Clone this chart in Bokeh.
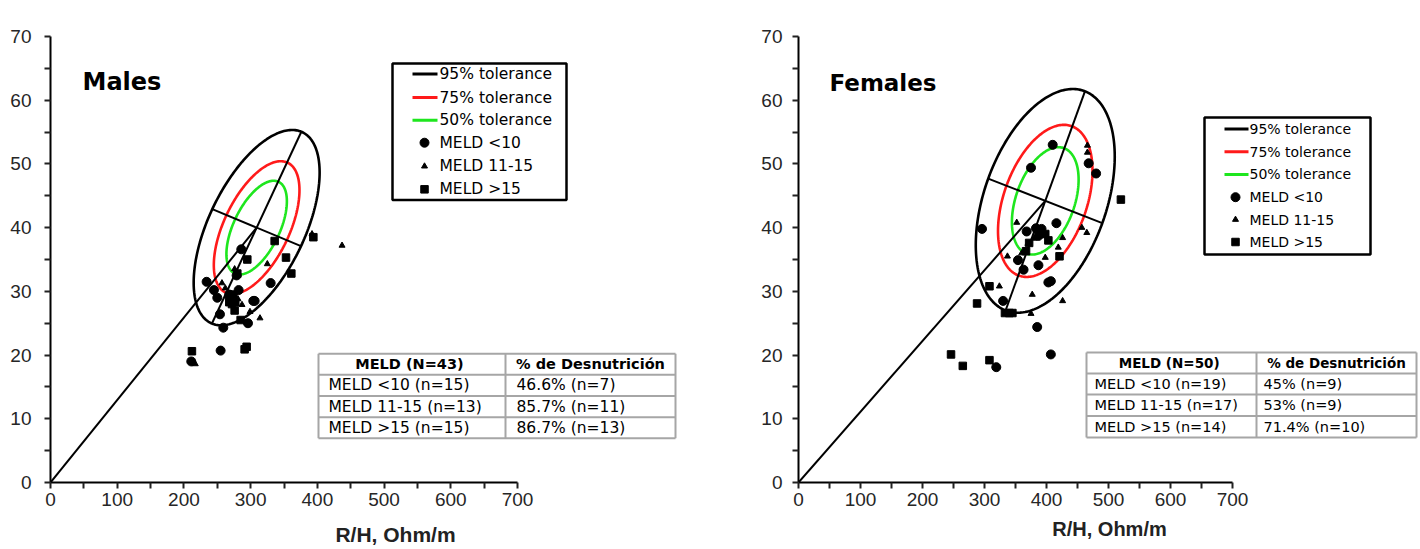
import numpy as np
from bokeh.plotting import figure
from bokeh.layouts import row
from bokeh.models import FixedTicker, Label, Range1d
from bokeh.core.properties import value
from bokeh.embed import file_html
from bokeh.resources import INLINE

# ---------------- data ----------------
x_ticks = [0, 100, 200, 300, 400, 500, 600, 700]
x_minor = [50, 150, 250, 350, 450, 550, 650]
y_ticks = [0, 10, 20, 30, 40, 50, 60, 70]
y_minor = [5, 15, 25, 35, 45, 55, 65]

tol_labels = ["95% tolerance", "75% tolerance", "50% tolerance"]
tol_scale = [1.0, 0.68, 0.48]
tol_colors = ["#000000", "#ff1a1a", "#1ee61e"]
meld_labels = ["MELD <10", "MELD 11-15", "MELD >15"]
meld_markers = ["circle", "triangle", "square"]
meld_sizes = [9, 6, 7.5]

# Males
m_lt10_x = [234, 245, 250, 254, 259, 296, 304, 282, 286, 255, 211, 330, 279, 268, 306]
m_lt10_y = [31.5, 30.2, 29.0, 26.4, 24.3, 25.0, 28.5, 30.2, 36.6, 20.7, 19.0, 31.3, 32.5, 29.5, 28.5]
m_11_15_x = [437, 325, 257, 314, 287, 299, 217, 276, 266, 305, 281, 392, 262]
m_11_15_y = [37.2, 34.3, 31.3, 25.8, 27.9, 26.8, 18.6, 33.5, 29.2, 28.7, 28.8, 39.0, 30.5]
m_gt15_x = [212, 294, 291, 336, 353, 361, 394, 295, 280, 268, 277, 276, 285, 274, 272]
m_gt15_y = [20.6, 21.3, 20.9, 37.9, 35.3, 32.8, 38.5, 35.0, 32.8, 28.3, 28.3, 27.0, 25.5, 29.5, 28.0]
m_center = [309, 40.0]
m_major = [67, 15.05]
m_minor = [66.5, -2.9]
m_header = ["MELD  (N=43)", "% de Desnutrición"]
m_col1 = ["MELD <10 (n=15)", "MELD 11-15 (n=13)", "MELD >15 (n=15)"]
m_col2 = ["46.6% (n=7)", "85.7% (n=11)", "86.7% (n=13)"]

# Females
f_lt10_x = [410, 375, 468, 480, 296, 416, 368, 383, 387, 354, 363, 387, 403, 407, 330, 385, 407, 319, 392]
f_lt10_y = [53.0, 49.4, 50.1, 48.5, 39.8, 40.7, 39.4, 39.9, 38.7, 34.9, 33.4, 34.1, 31.4, 31.6, 28.5, 24.4, 20.1, 18.1, 39.8]
f_11_15_x = [466, 466, 352, 457, 465, 426, 419, 337, 398, 324, 377, 426, 375, 370, 380, 360, 395]
f_11_15_y = [52.9, 51.8, 40.8, 40.0, 39.2, 38.4, 36.9, 35.5, 35.3, 30.8, 29.5, 28.5, 26.5, 37.5, 38.3, 36.0, 38.8]
f_gt15_x = [520, 421, 403, 308, 288, 333, 340, 246, 265, 308, 367, 398, 345, 372]
f_gt15_y = [44.4, 35.5, 38.0, 30.8, 28.1, 26.6, 26.6, 20.1, 18.3, 19.2, 36.3, 39.0, 26.6, 37.6]
f_center = [398, 44.2]
f_major = [64, 17.2]
f_minor = [92, -3.5]
f_header = ["MELD  (N=50)", "% de Desnutrición"]
f_col1 = ["MELD <10 (n=19)", "MELD 11-15 (n=17)", "MELD >15 (n=14)"]
f_col2 = ["45% (n=9)", "53% (n=9)", "71.4% (n=10)"]

TICK_FONT = "Liberation Sans"
BODY_FONT = "DejaVu Sans"


def make_panel(cfg, title, pts, center, major, minor, header, col1, col2):
    W, fl, ft, fb, x700 = cfg["W"], cfg["fl"], cfg["ft"], cfg["fb"], cfg["x700"]
    xmax = 700.0 * (W - fl) / (x700 - fl)

    def X(px):
        return (px - fl) / (W - fl) * xmax

    def Y(py):
        return (fb - py) / (fb - ft) * 70.0

    p = figure(width=W, height=549, x_range=Range1d(0, xmax), y_range=Range1d(0, 70),
               output_backend="svg", toolbar_location=None,
               min_border_left=fl, min_border_right=0, min_border_top=ft,
               min_border_bottom=549 - fb)
    p.outline_line_color = None
    p.grid.visible = False
    p.background_fill_color = "white"
    p.border_fill_color = "white"

    p.xaxis.ticker = FixedTicker(ticks=x_ticks, minor_ticks=x_minor)
    p.yaxis.ticker = FixedTicker(ticks=y_ticks, minor_ticks=y_minor)
    p.xaxis.bounds = (0, 700)
    p.yaxis.bounds = (0, 70)
    for ax in (p.xaxis, p.yaxis):
        ax.axis_line_width = 2
        ax.axis_line_color = "black"
        ax.major_tick_in = 0
        ax.minor_tick_in = 0
        ax.major_tick_out = 6
        ax.minor_tick_out = 6
        ax.major_tick_line_width = 2
        ax.minor_tick_line_width = 2
        ax.major_tick_line_color = "#222222"
        ax.minor_tick_line_color = "#222222"
        ax.major_label_text_font = TICK_FONT
        ax.major_label_text_font_size = cfg["tick_fs"]
        ax.major_label_text_color = "#262626"
    p.xaxis.major_label_standoff = cfg["xstand"]
    p.yaxis.major_label_standoff = cfg["ystand"]
    p.xaxis.axis_label = "R/H, Ohm/m"
    p.xaxis.axis_label_text_font = TICK_FONT
    p.xaxis.axis_label_text_font_style = "bold"
    p.xaxis.axis_label_text_font_size = cfg["axt_fs"]
    p.xaxis.axis_label_text_color = "#222222"
    p.xaxis.axis_label_standoff = cfg["axt_stand"]

    # tolerance ellipses
    t = np.linspace(0, 2 * np.pi, 241)
    for s, c in zip(tol_scale, tol_colors):
        xs = center[0] + s * (major[0] * np.cos(t) + minor[0] * np.sin(t))
        ys = center[1] + s * (major[1] * np.cos(t) + minor[1] * np.sin(t))
        p.line(xs, ys, line_color=c, line_width=2.6)
    # axes of the ellipse and vector from origin
    p.line([center[0] - major[0], center[0] + major[0]],
           [center[1] - major[1], center[1] + major[1]], line_color="black", line_width=2)
    p.line([center[0] - minor[0], center[0] + minor[0]],
           [center[1] - minor[1], center[1] + minor[1]], line_color="black", line_width=2)
    p.line([0, center[0]], [0, center[1]], line_color="black", line_width=2)

    # points
    for (xs, ys), mk, sz in zip(pts, meld_markers, meld_sizes):
        p.scatter(xs, ys, marker=mk, size=sz, fill_color="black", line_color="black")

    # title
    p.add_layout(Label(x=X(cfg["title_x"]), y=Y(cfg["title_y"]), text=title,
                       text_font=BODY_FONT, text_font_style="bold",
                       text_font_size=cfg["title_fs"], text_baseline="middle",
                       text_align="left", text_color="black"))

    # legend
    lg = cfg["leg"]
    p.quad(left=[X(lg["x0"])], right=[X(lg["x1"])], top=[Y(lg["y0"])], bottom=[Y(lg["y1"])],
           fill_color="white", line_color="black", line_width=2.5)
    rows_y = lg["rows"]
    for i, (lab, col) in enumerate(zip(tol_labels, tol_colors)):
        p.line([X(lg["lx0"]), X(lg["lx1"])], [Y(rows_y[i]), Y(rows_y[i])],
               line_color=col, line_width=3)
    for j, (mk, sz) in enumerate(zip(meld_markers, meld_sizes)):
        p.scatter([X(lg["mx"])], [Y(rows_y[3 + j])], marker=mk, size=sz,
                  fill_color="black", line_color="black")
    p.text(x=[X(lg["tx"])] * 6, y=[Y(v) for v in rows_y], text=tol_labels + meld_labels,
           text_font=value(BODY_FONT), text_font_size=lg["fs"], text_baseline="middle",
           text_align="left", text_color="black")

    # table
    tb = cfg["tab"]
    xl, xm, xr = tb["xs"]
    ys_t = tb["ys"]
    gx0, gy0, gx1, gy1 = [], [], [], []
    for yy in ys_t:
        gx0.append(X(xl)); gx1.append(X(xr)); gy0.append(Y(yy)); gy1.append(Y(yy))
    for xx in (xl, xm, xr):
        gx0.append(X(xx)); gx1.append(X(xx)); gy0.append(Y(ys_t[0])); gy1.append(Y(ys_t[-1]))
    p.segment(x0=gx0, y0=gy0, x1=gx1, y1=gy1, line_color="#a6a6a6", line_width=2)
    mids = [(ys_t[k] + ys_t[k + 1]) / 2 for k in range(4)]
    p.text(x=[X((xl + xm) / 2), X((xm + xr) / 2)], y=[Y(mids[0])] * 2, text=header,
           text_font=value(BODY_FONT), text_font_style="bold", text_font_size=tb["hfs"],
           text_baseline="middle", text_align="center", text_color="black")
    p.text(x=[X(tb["t1"])] * 3, y=[Y(v) for v in mids[1:]], text=col1,
           text_font=value(BODY_FONT), text_font_size=tb["fs"],
           text_baseline="middle", text_align="left", text_color="black")
    p.text(x=[X(tb["t2"])] * 3, y=[Y(v) for v in mids[1:]], text=col2,
           text_font=value(BODY_FONT), text_font_size=tb["fs"],
           text_baseline="middle", text_align="left", text_color="black")
    return p


cfg_m = dict(W=740, fl=50, ft=22, fb=486, x700=517, tick_fs="19px", xstand=4, ystand=13,
             title_x=82, title_y=69, title_fs="24px", axt_fs="21px", axt_stand=14,
             leg=dict(x0=392, x1=566, y0=50, y1=192, lx0=412, lx1=437, mx=424, tx=439,
                      rows=[61, 85.5, 109, 132.5, 157, 181], fs="15.5px"),
             tab=dict(xs=(318, 505, 675), ys=(352, 374, 396, 418, 440), t1=328, t2=516,
                      fs="15.5px", hfs="14.5px"))
cfg_f = dict(W=680, fl=58, ft=36, fb=482, x700=492, tick_fs="19px", xstand=4, ystand=10,
             title_x=89, title_y=82, title_fs="23px", axt_fs="20px", axt_stand=9,
             leg=dict(x0=464, x1=630, y0=117, y1=254, lx0=484, lx1=508, mx=495, tx=509,
                      rows=[128.5, 151.2, 173.9, 196.7, 219.1, 241.5], fs="14px"),
             tab=dict(xs=(346, 516, 676), ys=(352, 373, 394, 415.5, 437), t1=354, t2=523,
                      fs="14.5px", hfs="13.5px"))

p1 = make_panel(cfg_m, "Males",
                [(m_lt10_x, m_lt10_y), (m_11_15_x, m_11_15_y), (m_gt15_x, m_gt15_y)],
                m_center, m_major, m_minor, m_header, m_col1, m_col2)
p2 = make_panel(cfg_f, "Females",
                [(f_lt10_x, f_lt10_y), (f_11_15_x, f_11_15_y), (f_gt15_x, f_gt15_y)],
                f_center, f_major, f_minor, f_header, f_col1, f_col2)

layout = row(p1, p2)
open("out.html", "w").write(file_html(layout, INLINE))
